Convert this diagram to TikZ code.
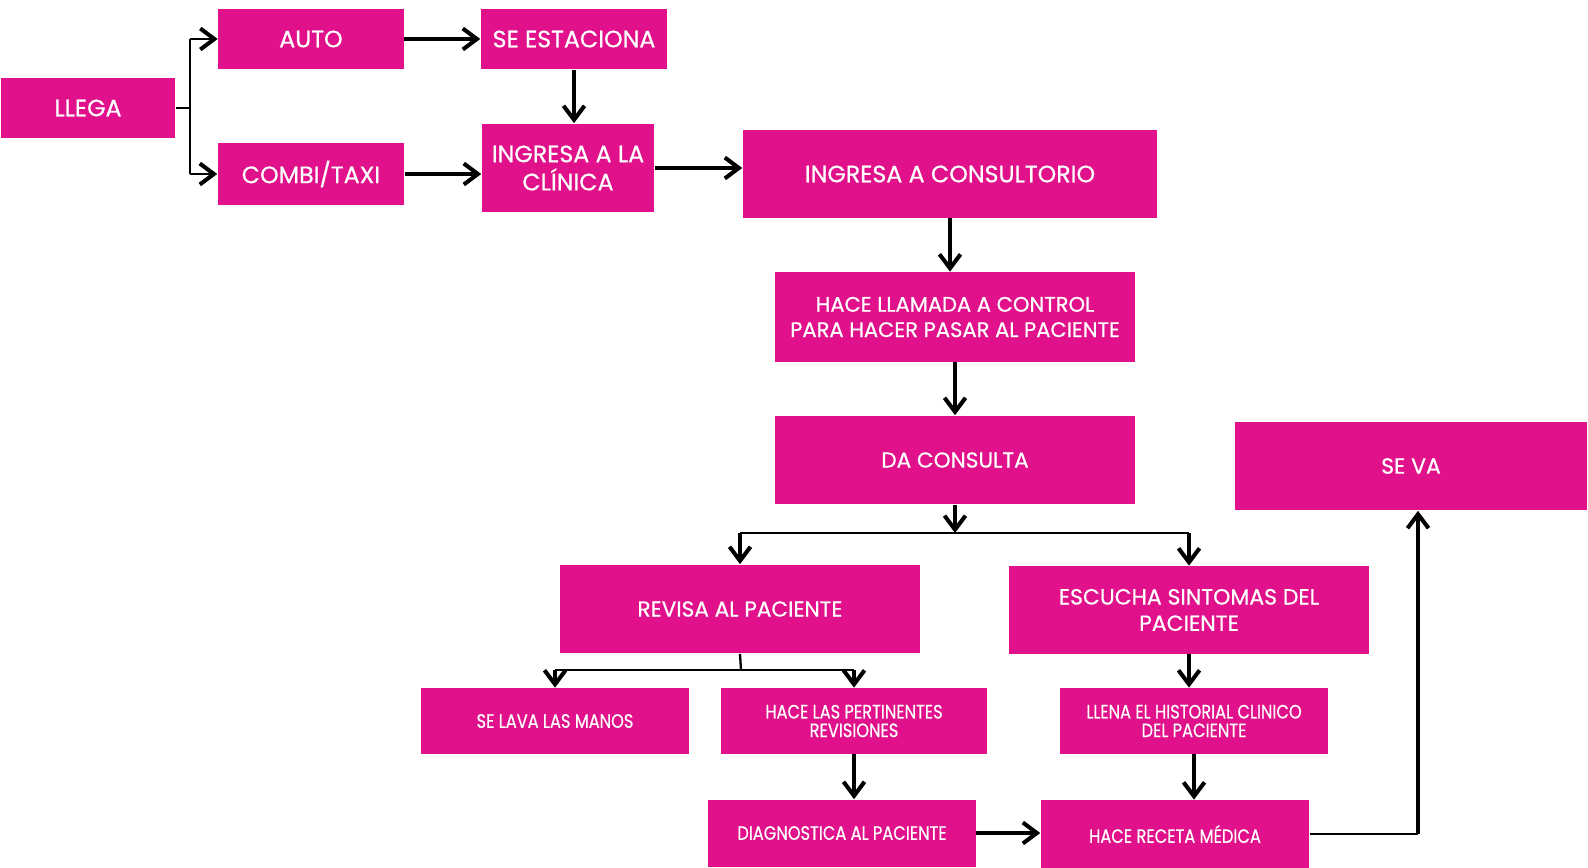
\documentclass[tikz,border=0pt]{standalone}
\usepackage{fontspec}
\setmainfont{Poppins}[FakeBold=0.6]
\newfontfamily\narrowfont{Poppins}[FakeStretch=0.84,FakeBold=0.5]
\usetikzlibrary{arrows.meta}
\definecolor{rosa}{RGB}{224,17,138}

\begin{document}
\begin{tikzpicture}[x=0.02cm,y=-0.02cm,
    caja/.style={fill=rosa,text=white,align=center,inner sep=0pt,
        font=\fontsize{13.5}{16}\selectfont},
    chica/.style={caja,font=\narrowfont\fontsize{11}{10.6}\selectfont},
    flecha/.style={line width=2.3pt,-{Straight Barb[length=0.28cm,width=0.42cm]}},
    fina/.style={line width=1.3pt,-{Straight Barb[length=0.28cm,width=0.42cm,line width=2.3pt]}},
    rama/.style={line width=1.3pt}]
    \useasboundingbox (0,0) rectangle (1588,868);

    \node[caja,minimum width=3.5cm,minimum height=1.22cm] (llega) at (88,108) {LLEGA};
    \node[caja,minimum width=3.72cm,minimum height=1.22cm] (auto) at (311,39) {AUTO};
    \node[caja,minimum width=3.74cm,minimum height=1.22cm] (estaciona) at (574,39) {SE ESTACIONA};
    \node[caja,minimum width=3.74cm,minimum height=1.24cm] (combi) at (311,174) {COMBI/TAXI};
    \node[caja,minimum width=3.46cm,minimum height=1.78cm] (clinica) at (568,168) {INGRESA A LA\\CLÍNICA};
    \node[caja,minimum width=8.3cm,minimum height=1.76cm] (consultorio) at (950,174) {INGRESA A CONSULTORIO};
    \node[caja,minimum width=7.2cm,minimum height=1.8cm,font=\fontsize{12}{14.4}\selectfont] (llamada) at (955,317)
        {HACE LLAMADA A CONTROL\\PARA HACER PASAR AL PACIENTE};
    \node[caja,minimum width=7.2cm,minimum height=1.78cm,font=\fontsize{12.3}{14.4}\selectfont] (consulta) at (955,460) {DA CONSULTA};
    \node[caja,minimum width=7.06cm,minimum height=1.78cm,font=\fontsize{12.5}{14.4}\selectfont] (seva) at (1411,466) {SE VA};
    \node[caja,minimum width=7.22cm,minimum height=1.78cm,font=\fontsize{12.3}{15}\selectfont] (revisa) at (740,609) {REVISA AL PACIENTE};
    \node[caja,minimum width=7.2cm,minimum height=1.76cm,font=\fontsize{12.5}{15}\selectfont] (escucha) at (1189,610)
        {ESCUCHA SINTOMAS DEL\\PACIENTE};
    \node[chica,minimum width=5.38cm,minimum height=1.32cm] (manos) at (555,721) {SE LAVA LAS MANOS};
    \node[chica,minimum width=5.34cm,minimum height=1.32cm] (revisiones) at (854,721) {HACE LAS PERTINENTES\\REVISIONES};
    \node[chica,minimum width=5.38cm,minimum height=1.32cm] (historial) at (1194,721) {LLENA EL HISTORIAL CLINICO\\DEL PACIENTE};
    \node[chica,minimum width=5.36cm,minimum height=1.34cm] (diagnostico) at (842,833) {DIAGNOSTICA AL PACIENTE};
    \node[chica,minimum width=5.38cm,minimum height=1.36cm] (receta) at (1175,834) {HACE RECETA MÉDICA};

    % llegada
    \coordinate (f1) at (190,108);
    \draw[rama] (llega.east) -- (f1);
    \draw[rama] (f1 |- auto) -- (f1 |- combi);
    \draw[fina] (f1 |- auto) -- (auto.west);
    \draw[fina] (f1 |- combi) -- (combi.west);
    \draw[flecha] (auto.east) -- (estaciona.west);
    \draw[flecha] (estaciona.south) -- (estaciona.south |- clinica.north);
    \draw[flecha] (combi.east) -- (combi.east -| clinica.west);
    \draw[flecha] (clinica.east) -- (clinica.east -| consultorio.west);
    \draw[flecha] (consultorio.south) -- (consultorio.south |- llamada.north);
    \draw[flecha] (llamada.south) -- (llamada.south |- consulta.north);

    % consulta
    \coordinate (b1) at (955,533);
    \draw[flecha] (consulta.south) -- (b1);
    \draw[rama] (revisa.north |- b1) -- (escucha.north |- b1);
    \draw[flecha] (revisa.north |- b1) -- (revisa.north);
    \draw[flecha] (escucha.north |- b1) -- (escucha.north);

    \coordinate (b2) at (741,670);
    \draw[rama] (revisa.south) -- (b2);
    \draw[rama] (manos.north |- b2) -- (revisiones.north |- b2);
    \draw[flecha] (manos.north |- b2) -- (manos.north);
    \draw[flecha] (revisiones.north |- b2) -- (revisiones.north);
    \draw[flecha] (revisiones.south) -- (revisiones.south |- diagnostico.north);
    \draw[flecha] (escucha.south) -- (escucha.south |- historial.north);
    \draw[flecha] (historial.south) -- (historial.south |- receta.north);
    \draw[flecha] (diagnostico.east) -- (diagnostico.east -| receta.west);

    % salida
    \coordinate (esq) at (1418,834);
    \draw[rama] (receta.east) -- (esq);
    \draw[flecha] (esq) -- (esq |- seva.south);
\end{tikzpicture}
\end{document}
